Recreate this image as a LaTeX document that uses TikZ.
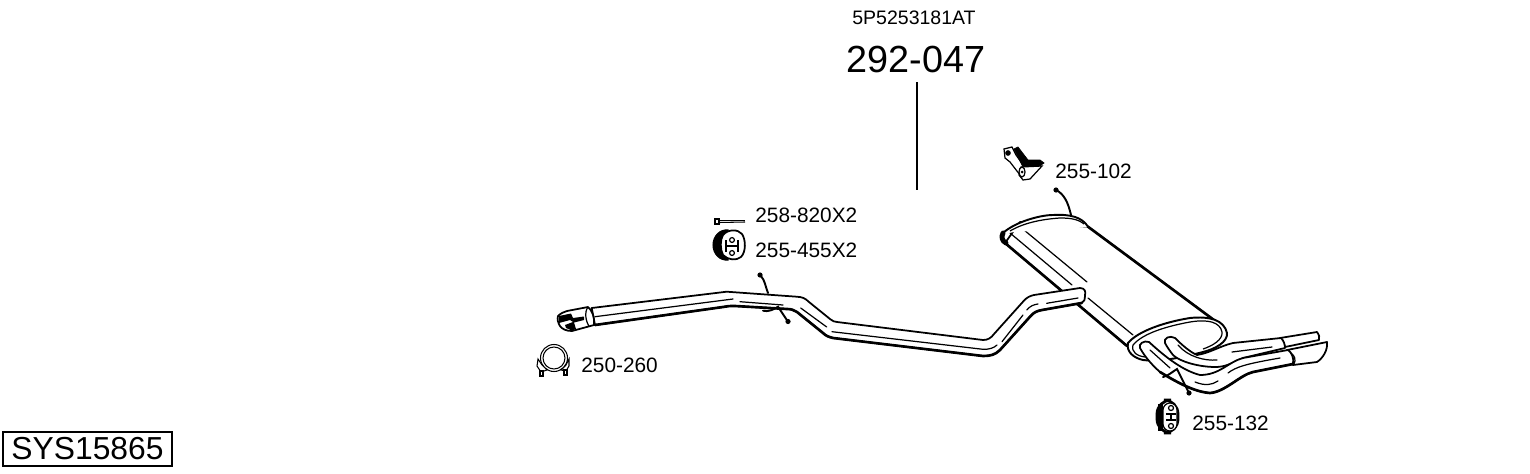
\documentclass[tikz,border=0pt]{standalone}
\usepackage{fontspec}
\setmainfont{Liberation Sans}
\tikzstyle{part label}=[font=\fontsize{11.85}{14}\selectfont,anchor=base west,inner sep=0pt]
\tikzstyle{ref label}=[font=\fontsize{11.1}{13}\selectfont,anchor=base,inner sep=0pt]
\tikzstyle{main label}=[font=\fontsize{21.5}{25}\selectfont,anchor=base,inner sep=5pt]
\tikzstyle{sys label}=[font=\fontsize{18.1}{21}\selectfont,draw,line width=0.7pt,minimum width=169*0.02cm,minimum height=34*0.02cm,inner sep=0pt]
\tikzstyle{leader}=[draw,line width=0.6pt,-]
\tikzstyle{outline}=[draw,line width=1pt,fill=white,line join=round]
\tikzstyle{heavy}=[draw,line width=1.5pt,line cap=round,line join=round]
\tikzstyle{thin line}=[draw,line width=0.7pt,line cap=round]
\tikzstyle{wire}=[draw,line width=1.1pt,line cap=round]
\begin{document}
\begin{tikzpicture}[x=0.2mm,y=-0.2mm]
        \useasboundingbox (0,0) rectangle (1530,474);

        \node[ref label] (n5p) at (914,25) {5P5253181AT};
        \node[main label] (n292) at (916,72.5) {292-047};
        \coordinate (leadend) at (917,190);
        \path[leader] (n292.south -| leadend) -- (leadend);

        \node[part label] (n258) at (755,222) {258-820X2};
        \node[part label] (n455) at (755,257) {255-455X2};
        \node[part label] (n250) at (581,372) {250-260};
        \node[part label] (n102) at (1055,178) {255-102};
        \node[part label] (n132) at (1192,430) {255-132};
        \node[sys label] (nsys) at (87.5,449) {SYS15865};

        % muffler
        \path[outline] (1005,243) -- (1126,345) -- (1218,323) -- (1088,226.7) -- (1020,222) -- cycle;
        \path[heavy] (1005,243) -- (1127,346);
        \path[heavy] (1088,226.7) -- (1218,323);
        \path[thin line] (1010,233) -- (1072,285);
        \path[thin line] (1020,226.7) -- (1087,282);
        \path[thin line] (1088,298) -- (1133,335);
        \path[outline,line width=1.1pt] (1003,233) .. controls (1015,222) and (1040,215) .. (1053,215)
            .. controls (1070,214) and (1082,217) .. (1088,226.7);
        \path[draw,line width=0.7pt] (1010,231) .. controls (1025,222) and (1045,219) .. (1060,218)
            .. controls (1070,218) and (1078,219) .. (1084,224);
        \path[draw,line width=2.8pt,line cap=round] (1003,233) .. controls (1001,237) and (1002,241) .. (1006,243);
        \path[outline,line width=1.1pt] (1128,343) .. controls (1138,331) and (1165,322) .. (1190,318)
            .. controls (1210,316) and (1224,320) .. (1227,333)
            .. controls (1228,342) and (1215,349) .. (1203,352)
            .. controls (1180,358) and (1160,362) .. (1143,360)
            .. controls (1134,358) and (1126,352) .. (1128,343) -- cycle;
        \path[draw,line width=0.7pt] (1133,345) .. controls (1143,333) and (1168,326) .. (1190,322)
            .. controls (1208,319) and (1220,322) .. (1222,332)
            .. controls (1223,340) and (1212,346) .. (1203,349);
        \path[draw,line width=0.7pt] (1133,345) .. controls (1131,352) and (1137,356) .. (1145,357);

        % tail pipes
        \path[outline] (1280,338) -- (1317,332) .. controls (1319,335) and (1320,337) .. (1319,340)
            -- (1285,347) .. controls (1284,343) and (1282,340) .. (1280,338) -- cycle;
        \path[outline] (1165,343) .. controls (1163,338) and (1170,335) .. (1175,338)
            .. controls (1182,345) and (1190,352) .. (1197,355)
            .. controls (1210,353) and (1220,346) .. (1233,343) -- (1281,338)
            .. controls (1284,341) and (1285,345) .. (1285,348)
            -- (1243,358) .. controls (1230,364) and (1225,367) .. (1215,367)
            .. controls (1200,367) and (1180,362) .. (1173,355)
            .. controls (1170,351) and (1167,347) .. (1165,343) -- cycle;
        \path[thin line] (1178,345) .. controls (1188,357) and (1205,361) .. (1217,360);
        \path[thin line] (1232,352) -- (1272,347);
        \path[outline] (1287,350) -- (1327,342) .. controls (1328,350) and (1323,358) .. (1317,362)
            -- (1293,365) .. controls (1294,358) and (1292,353) .. (1287,350) -- cycle;
        \path[outline] (1140,348) .. controls (1138,344) and (1144,340) .. (1149,342)
            .. controls (1160,352) and (1180,370) .. (1200,375)
            .. controls (1220,375) and (1228,362) .. (1243,358) -- (1288,350)
            .. controls (1292,353) and (1294,358) .. (1293,364)
            -- (1253,372) .. controls (1240,375) and (1225,392) .. (1210,393)
            .. controls (1195,392) and (1178,383) .. (1160,372)
            .. controls (1152,365) and (1145,357) .. (1140,348) -- cycle;
        \path[heavy] (1293,364) -- (1253,372) .. controls (1240,375) and (1225,392) .. (1210,393)
            .. controls (1195,392) and (1178,383) .. (1160,372);
        \path[thin line] (1150,350) -- (1170,368);
        \path[thin line] (1195,382) .. controls (1205,386) and (1212,385) .. (1218,381);
        \path[thin line] (1228,373) .. controls (1236,367) and (1245,364) .. (1280,358);
        \path[draw,line width=0.7pt] (1291,353) .. controls (1295,356) and (1296,360) .. (1294,364);

        % middle pipe
        \path[outline] (595,325) -- (591.7,308) -- (726.7,291.7) -- (796.7,296.7)
            .. controls (802,297) and (805,298) .. (809,302) -- (830,319)
            .. controls (832,321) and (835,322) .. (837,322) -- (983,340)
            .. controls (988,340) and (991,338) .. (994,334) -- (1023,301.7)
            .. controls (1027,297) and (1030,296) .. (1034,295) -- (1080,288)
            .. controls (1085,288) and (1086,292) .. (1085,295)
            .. controls (1085,300) and (1084,302) .. (1081.7,303) -- (1042,310)
            .. controls (1037,311) and (1034,312) .. (1030,316.7) -- (1000,350)
            .. controls (995,355) and (990,356) .. (983,356) -- (833,338)
            .. controls (829,337) and (826,336) .. (823,333) -- (797,312)
            .. controls (794,310) and (791,309) .. (787,309) -- (735,306)
            .. controls (730,306) and (727,306) .. (723,307) -- cycle;
        \path[heavy] (595,325) -- (723,307) .. controls (727,306) and (730,306) .. (735,306) -- (787,309)
            .. controls (791,309) and (794,310) .. (797,312) -- (823,333)
            .. controls (826,336) and (829,337) .. (833,338) -- (983,356)
            .. controls (990,356) and (995,355) .. (1000,350) -- (1030,316.7)
            .. controls (1034,312) and (1037,311) .. (1042,310) -- (1081.7,303);
        \path[thin line] (595,316.7) -- (733,299);
        \path[thin line] (740,301.7) -- (783,305);
        \path[thin line] (800.7,308) -- (826.7,327);
        \path[thin line] (832,331.7) -- (983,349.3) .. controls (989,349.5) and (994,348) .. (997,345);
        \path[thin line] (1002,341.7) -- (1023,315);
        \path[thin line] (1026.7,310) .. controls (1030,306) and (1034,304.5) .. (1038,304);
        \path[thin line] (1046.7,303.3) -- (1078,298);

        % front flange
        \path[outline] (558,316) .. controls (561,313) and (564,312) .. (567,311) -- (588,307)
            .. controls (592,310) and (595,318) .. (594,325) -- (572,331)
            .. controls (566,331) and (562,329) .. (560,326)
            .. controls (558,323) and (557,319) .. (558,316) -- cycle;
        \path[fill=black] (559,316) -- (571,313.5) -- (573,318) -- (584,316.5) -- (584,320) -- (574,322.5)
            -- (576,329) -- (572,330.5) -- (566,328) -- (565,325) -- (573,322) -- (570,320) -- (559,323) -- cycle;
        \path[draw,line width=0.7pt] (588,307) .. controls (584,312) and (586,322) .. (589,326);

        % wires
        \path[wire] (761,276) .. controls (765,281) and (765,285) .. (768,293);
        \path[wire] (763,310.7) .. controls (768,312) and (773,310) .. (778,306.7) -- (788,321.7);
        \path[wire] (1056,190) .. controls (1064,194) and (1068,202) .. (1071,215);
        \path[wire] (1163,377) .. controls (1168,376) and (1172,372) .. (1177,369) -- (1189,393);
        \foreach \px/\py in {760/275,788/321.5,1056/190,1189/393}{
            \path[fill=black] (\px,\py) circle (2.6);
        }

        % bolt
        \path[draw,line width=0.6pt,fill=white] (715,219) rectangle (719,224);
        \path[draw,line width=1pt] (719,220.5) -- (745,220.5);
        \path[draw,line width=0.6pt] (719,222.5) -- (745,222);

        % hanger ring
        \path[draw,line width=0.6pt,fill=black] (728,230) .. controls (720,229) and (713,236) .. (713,245)
            .. controls (713,254) and (720,261) .. (728,260) -- cycle;
        \path[outline] (723,235) .. controls (728,229) and (738,229) .. (742,234)
            .. controls (746,240) and (746,252) .. (741,257)
            .. controls (736,261) and (728,260) .. (723,255)
            .. controls (720,249) and (720,240) .. (723,235) -- cycle;
        \path[draw,line width=1.5pt] (726,240) -- (726,252) (738,240) -- (738,252) (726,246) -- (738,246);
        \path[draw,line width=0.7pt,fill=white] (732,240) circle (2.4) (732,253) circle (2.4);

        % clamp
        \path[draw,line width=0.6pt,fill=white] (554,358) circle (13.5);
        \path[draw,line width=0.6pt] (554,358) circle (11);
        \path[draw,line width=0.6pt,fill=white] (542,365) -- (538,359) -- (537,366) -- (541,372) -- (547,370) -- cycle;
        \path[draw,line width=0.6pt,fill=white] (566,365) -- (569,359) -- (569,366) -- (566,371) -- (561,370) -- cycle;
        \path[draw,line width=0.6pt,fill=white] (540,371) rectangle (543,376);
        \path[draw,line width=0.6pt,fill=white] (564,370) rectangle (567,375);

        % bracket
        \path[draw,line width=0.7pt,fill=white] (1004,149) -- (1012,147) -- (1016,155) -- (1026,169) -- (1020,175) -- (1010,162) -- (1005,158) -- cycle;
        \path[draw,fill=black] (1014,149) -- (1018,147) -- (1028,160) -- (1040,160) -- (1044,163) -- (1034,170) -- (1023,167) -- cycle;
        \path[draw,line width=0.7pt,fill=white] (1021,167) -- (1042,166) -- (1030,179) -- (1023,180) -- (1019,175) -- cycle;
        \path[draw,fill=black] (1008,153) circle (2.4);
        \path[draw,line width=0.7pt,fill=white] (1022,172) ellipse (3 and 5);
        \path[fill=black] (1022,172) circle (1.5);

        % hanger plate
        \path[draw,line width=1.6pt,fill=white,rounded corners=8] (1157,400) rectangle (1178,433);
        \path[draw,fill=black] (1158,404) rectangle (1162,430);
        \path[draw,line width=0.7pt,fill=white,rounded corners=4] (1163,403) rectangle (1177,431);
        \path[draw,line width=1pt] (1166,414) -- (1176,414) (1166,420) -- (1176,420) (1171,414) -- (1171,420);
        \path[draw,line width=0.7pt,fill=white] (1171,408) circle (2.5) (1171,426) circle (2.5);
    \end{tikzpicture}
\end{document}
